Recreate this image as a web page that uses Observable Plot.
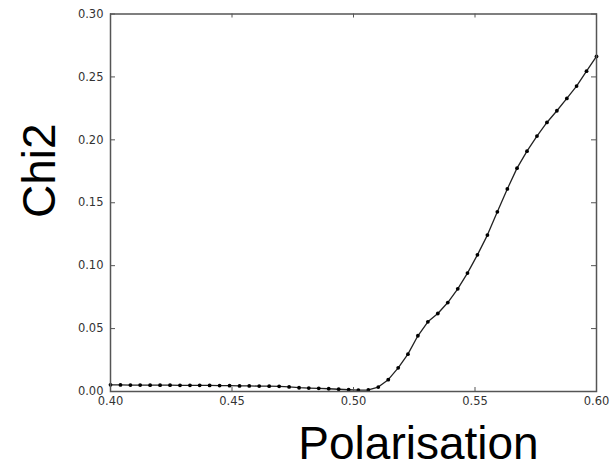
<!DOCTYPE html>
<html>
<head>
<meta charset="utf-8">
<script src="https://cdn.jsdelivr.net/npm/d3@7"></script>
<script src="https://cdn.jsdelivr.net/npm/@observablehq/plot@0.6"></script>
<style>
  html, body { margin: 0; padding: 0; background: #fff; }
  svg { display: block; }
</style>
</head>
<body>
<div id="chart"></div>
<script>
const polarisation = [0.4000,0.4041,0.4082,0.4122,0.4163,0.4204,0.4245,0.4286,0.4327,0.4367,
  0.4408,0.4449,0.4490,0.4531,0.4571,0.4612,0.4653,0.4694,0.4735,0.4776,
  0.4816,0.4857,0.4898,0.4939,0.4980,0.5020,0.5061,0.5102,0.5143,0.5184,
  0.5224,0.5265,0.5306,0.5347,0.5388,0.5429,0.5469,0.5510,0.5551,0.5592,
  0.5633,0.5673,0.5714,0.5755,0.5796,0.5837,0.5878,0.5918,0.5959,0.6000];
const chi2 = [0.0053,0.0052,0.0051,0.0051,0.0050,0.0050,0.0050,0.0049,0.0049,0.0049,
  0.0048,0.0047,0.0046,0.0044,0.0044,0.0043,0.0042,0.0041,0.0036,0.0030,
  0.0027,0.0025,0.0022,0.0018,0.0014,0.0011,0.0012,0.0035,0.0094,0.0188,
  0.0297,0.0443,0.0554,0.0620,0.0707,0.0816,0.0941,0.1086,0.1243,0.1428,
  0.1610,0.1775,0.1910,0.2030,0.2138,0.2231,0.2329,0.2427,0.2546,0.2663];
const xTicks = [0.40, 0.45, 0.50, 0.55, 0.60];
const yTicks = [0.00, 0.05, 0.10, 0.15, 0.20, 0.25, 0.30];
const xLabel = "Polarisation";
const yLabel = "Chi2";

const data = polarisation.map((p, i) => ({p, c: chi2[i]}));
const fmt = d3.format(".2f");
const tickFont = "DejaVu Sans, sans-serif";
const labelFont = "Liberation Sans, Arial, sans-serif";

const W = 610, H = 469, mL = 110, mR = 14, mT = 13.5, mB = 78;
const innerW = W - mL - mR, innerH = H - mT - mB;
const tx = 4, ty = 5;
const tickColor = "#555";

const chart = Plot.plot({
  width: W,
  height: H,
  marginLeft: mL,
  marginRight: mR,
  marginTop: mT,
  marginBottom: mB,
  x: {domain: [0.4, 0.6], axis: null},
  y: {domain: [0, 0.3], axis: null},
  style: {background: "#fff"},
  marks: [
    Plot.line(data, {x: "p", y: "c", stroke: "#222", strokeWidth: 1.3}),
    Plot.dot(data, {x: "p", y: "c", r: 1.9, fill: "#000", stroke: "none"}),
    Plot.tickX(xTicks, {x: d => d, insetTop: innerH - tx, stroke: tickColor}),
    Plot.tickX(xTicks, {x: d => d, insetBottom: innerH - tx, stroke: tickColor}),
    Plot.tickY(yTicks, {y: d => d, insetRight: innerW - ty, stroke: tickColor}),
    Plot.tickY(yTicks, {y: d => d, insetLeft: innerW - ty, stroke: tickColor}),
    Plot.frame({stroke: "#555", strokeWidth: 1.5}),
    Plot.text(xTicks, {x: d => d, frameAnchor: "bottom", dy: 10, text: d => fmt(d),
      lineAnchor: "middle", textAnchor: "middle", fontSize: 11.5, fontFamily: tickFont, fill: "#333"}),
    Plot.text(yTicks, {y: d => d, frameAnchor: "left", dx: -7, text: d => fmt(d),
      lineAnchor: "middle", textAnchor: "end", fontSize: 11.5, fontFamily: tickFont, fill: "#333"}),
    Plot.text([xLabel], {frameAnchor: "bottom", text: d => d, dx: 65, dy: 53,
      fontSize: 46, fontFamily: labelFont, fill: "#000", lineAnchor: "middle", textAnchor: "middle"}),
    Plot.text([yLabel], {frameAnchor: "left", text: d => d, dx: -70, dy: -32, rotate: -90,
      fontSize: 46, fontFamily: labelFont, fill: "#000", lineAnchor: "middle", textAnchor: "middle"})
  ]
});
document.getElementById("chart").appendChild(chart);
</script>
</body>
</html>
